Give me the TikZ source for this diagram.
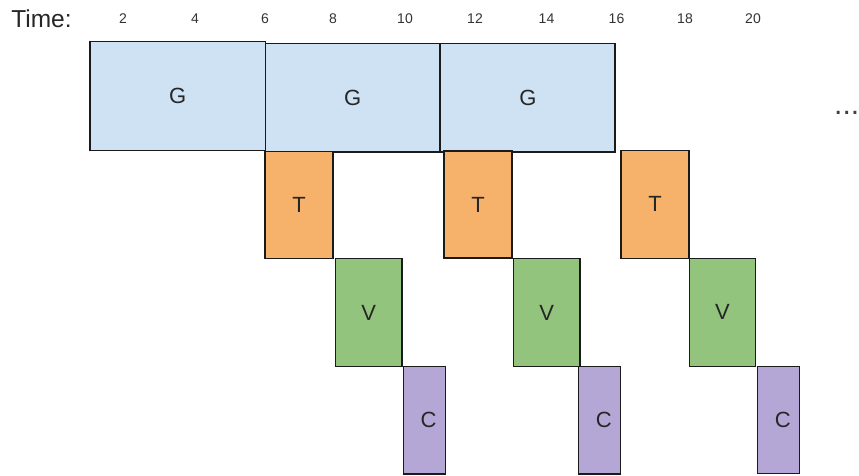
\documentclass[tikz,border=0pt]{standalone}
\usepackage{fontspec}
\setmainfont{Liberation Sans}
\definecolor{gfill}{HTML}{CFE2F3}
\definecolor{tfill}{HTML}{F6B26B}
\definecolor{vfill}{HTML}{93C47D}
\definecolor{cfill}{HTML}{B4A7D6}
\definecolor{edge}{HTML}{1A1A1A}
\tikzset{
  blk/.style={draw=edge, line width=1.3pt, inner sep=0pt, font=\fontsize{22}{24}\selectfont, text=black!85},
  gbox/.style={blk, fill=gfill, minimum width=174.5pt, minimum height=108.5pt},
  tbox/.style={blk, fill=tfill, minimum width=68pt, minimum height=107pt},
  vbox/.style={blk, fill=vfill, minimum width=66.5pt, minimum height=108pt},
  cbox/.style={blk, fill=cfill, minimum width=42pt, minimum height=107.5pt},
  tick/.style={font=\fontsize{14}{16}\selectfont, text=black!80, inner sep=0pt}
}
\begin{document}
\begin{tikzpicture}[x=1pt, y=-1pt]
\useasboundingbox (0,0) rectangle (859,476);
\node[font=\fontsize{24.5}{26}\selectfont, text=black!85, inner sep=0pt] (time) at (41.5,19) {Time:};
\foreach \t/\x in {2/123,4/195,6/265,8/333,10/405,12/475,14/546.5,16/616.5,18/685,20/753}
  \node[tick] (n\t) at (\x,19) {\t};
\node[gbox, minimum width=175.7pt, minimum height=109pt] (g1) at (177.8,96.2) {G};
\node[gbox] (g2) at (352.8,97.8) {G};
\node[gbox] (g3) at (527.8,97.8) {G};
\node[tbox] (t1) at (299,205) {T};
\node[tbox] (t2) at (478,204.5) {T};
\node[tbox, minimum height=108pt] (t3) at (655,204.2) {T};
\node[vbox] (v1) at (368.7,312.5) {V};
\node[vbox] (v2) at (546.7,312.5) {V};
\node[vbox] (v3) at (722.5,312.2) {V};
\node[cbox] (c1) at (424.5,420.3) {\hspace*{8pt}C};
\node[cbox] (c2) at (599.8,420.3) {\hspace*{8pt}C};
\node[cbox] (c3) at (778.7,420) {\hspace*{8pt}C};
\node[font=\fontsize{30}{32}\selectfont, text=black!75, inner sep=0pt, anchor=base west] (dots) at (834,114) {...};
\end{tikzpicture}
\end{document}
